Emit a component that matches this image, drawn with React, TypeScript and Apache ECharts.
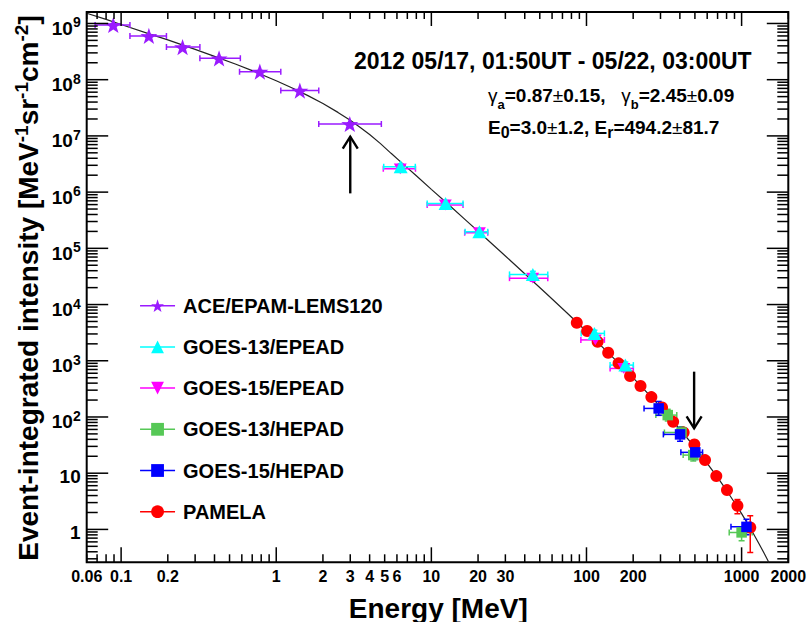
import React, { useEffect, useRef } from "react";
import * as echarts from "echarts";

const FONT = '"Liberation Sans", Arial, Helvetica, sans-serif';

const X_MIN = 0.06;
const X_MAX = 2000;
const Y_MIN = 0.26;
const Y_MAX = 1.6e9;

// rows: [E (MeV), intensity, E_lo, E_hi, I_lo, I_hi]
const aceRows = [
  [0.089, 9.4e8, 0.068, 0.114, 8.9e8, 9.9e8],
  [0.151, 6.0e8, 0.114, 0.196, 5.7e8, 6.3e8],
  [0.249, 3.8e8, 0.196, 0.322, 3.6e8, 4.0e8],
  [0.428, 2.4e8, 0.322, 0.587, 2.28e8, 2.52e8],
  [0.784, 1.39e8, 0.58, 1.07, 1.32e8, 1.46e8],
  [1.42, 6.4e7, 1.07, 1.88, 6.1e7, 6.7e7],
  [2.98, 1.63e7, 1.88, 4.76, 1.55e7, 1.71e7],
];

const goes13EpeadRows = [
  [6.34, 2.83e6, 4.93, 7.88, 2.5e6, 3.2e6],
  [12.35, 6.3e5, 9.4, 16.0, 5.6e5, 7.1e5],
  [20.4, 1.97e5, 16.5, 23.1, 1.75e5, 2.2e5],
  [45.1, 3.44e4, 31.9, 56.3, 3.05e4, 3.9e4],
  [112.5, 3.07e3, 92.4, 130.5, 2.7e3, 3.5e3],
  [178, 838, 142, 200.5, 740, 950],
];

const goes15EpeadRows = [
  [6.3, 2.6e6, 4.9, 7.9, 2.3e6, 2.95e6],
  [12.3, 5.9e5, 9.4, 16.0, 5.2e5, 6.7e5],
  [20.4, 1.9e5, 16.4, 23.1, 1.68e5, 2.15e5],
  [45, 2.95e4, 31.9, 56.3, 2.6e4, 3.35e4],
  [114, 2.35e3, 92, 130.5, 2.08e3, 2.65e3],
  [174, 730, 142, 200.5, 645, 825],
];

const goes13HepadRows = [
  [334, 108, 280, 382, 85, 137],
  [410, 53, 318, 423, 42, 67],
  [488, 21, 420, 560, 16.5, 26.5],
  [1000, 0.885, 832, 1170, 0.63, 1.09],
];

const goes15HepadRows = [
  [292, 142, 235, 314, 107, 189],
  [401, 49, 313, 421, 37, 65],
  [503, 23.5, 406, 560, 17.6, 31.3],
  [1075, 1.11, 854, 1176, 0.8, 1.52],
];

const pamelaRows = [
  [86.6, 4745, 86.6, 86.6, 4560, 4940],
  [101, 3376, 101, 101, 3240, 3510],
  [118, 2178, 118, 118, 2090, 2265],
  [138, 1387, 138, 138, 1330, 1445],
  [161, 899, 161, 161, 862, 935],
  [191, 535, 191, 191, 513, 557],
  [223, 355, 223, 223, 340, 370],
  [262, 226, 262, 262, 216, 236],
  [307, 148, 307, 307, 141, 155],
  [362, 82, 362, 362, 78, 86],
  [423, 53, 423, 423, 50.5, 55.5],
  [496, 32.5, 496, 496, 31, 34],
  [581, 17.1, 581, 581, 16.2, 18],
  [687, 8.88, 687, 687, 8.4, 9.4],
  [805, 5.0, 805, 805, 4.7, 5.3],
  [940, 2.63, 940, 940, 1.9, 3.4],
  [1137, 1.08, 1137, 1137, 0.39, 1.75],
];

// fitted curve
const fitEnergy = [
  0.06, 0.08, 0.1, 0.15, 0.2, 0.3, 0.4, 0.55, 0.7, 1, 1.3, 1.6, 2, 2.5, 3, 3.5, 4,
  4.7, 5.5, 6.5, 8, 10, 13, 17, 22, 30, 40, 55, 75, 100, 140, 200, 280, 400, 500,
  600, 700, 800, 900, 1000, 1100, 1200, 1300, 1400, 1500,
];
const fitIntensity = [
  1.52e9, 1.18e9, 9.6e8, 6.6e8, 5.1e8, 3.46e8, 2.6e8, 1.88e8, 1.45e8, 9.6e7, 6.9e7,
  5.2e7, 3.76e7, 2.62e7, 1.9e7, 1.4e7, 1.06e7, 7.3e6, 4.9e6, 3.25e6, 1.95e6, 1.12e6,
  5.9e5, 3.02e5, 1.59e5, 7.3e4, 3.54e4, 1.57e4, 7.06e3, 3.32e3, 1.34e3, 496, 185,
  60.5, 28.7, 15.0, 8.4, 4.93, 3.01, 1.91, 1.23, 0.81, 0.546, 0.372, 0.257,
];

const arrowEnergy = [3.0, 494.2];
const arrowFrom = [9.5e5, 640];
const arrowTo = [9.7e6, 63];

const xTickLabels = [0.06, 0.1, 0.2, 1, 2, 3, 4, 5, 6, 10, 20, 30, 100, 200, 1000, 2000];
const yTickExponents = [0, 1, 2, 3, 4, 5, 6, 7, 8, 9];

const seriesNames = [
  "ACE/EPAM-LEMS120",
  "GOES-13/EPEAD",
  "GOES-15/EPEAD",
  "GOES-13/HEPAD",
  "GOES-15/HEPAD",
  "PAMELA",
];

const STAR =
  "path://M50,0 L61.8,35.1 L97.6,34.5 L69,56.7 L79.4,90.5 L50,70 L20.6,90.5 L31,56.7 L2.4,34.5 L38.2,35.1 Z";
const DOWN_TRI = "path://M0,0 L10,0 L5,9 Z";

const COL_ACE = "#9a1aff";
const COL_G13E = "#00ffff";
const COL_G15E = "#ff00ff";
const COL_G13H = "#56c856";
const COL_G15H = "#0000ff";
const COL_PAM = "#ff0000";

function errRender(color: string) {
  return (params: any, api: any) => {
    const x = api.value(0);
    const y = api.value(1);
    const xl = api.value(2);
    const xh = api.value(3);
    const yl = api.value(4);
    const yh = api.value(5);
    const st = { stroke: color, lineWidth: 1.5 };
    const cap = 3;
    const ch: any[] = [];
    if (xh > xl) {
      const a = api.coord([xl, y]);
      const b = api.coord([xh, y]);
      ch.push({ type: "line", shape: { x1: a[0], y1: a[1], x2: b[0], y2: b[1] }, style: st });
      ch.push({ type: "line", shape: { x1: a[0], y1: a[1] - cap, x2: a[0], y2: a[1] + cap }, style: st });
      ch.push({ type: "line", shape: { x1: b[0], y1: b[1] - cap, x2: b[0], y2: b[1] + cap }, style: st });
    }
    if (yh > yl) {
      const a = api.coord([x, yl]);
      const b = api.coord([x, yh]);
      ch.push({ type: "line", shape: { x1: a[0], y1: a[1], x2: b[0], y2: b[1] }, style: st });
      ch.push({ type: "line", shape: { x1: a[0] - cap, y1: a[1], x2: a[0] + cap, y2: a[1] }, style: st });
      ch.push({ type: "line", shape: { x1: b[0] - cap, y1: b[1], x2: b[0] + cap, y2: b[1] }, style: st });
    }
    return { type: "group", children: ch };
  };
}

function logTicks(lo: number, hi: number) {
  const major: number[] = [];
  const minor: number[] = [];
  for (let e = -3; e <= 10; e++) {
    const d = Math.pow(10, e);
    for (let k = 1; k <= 9; k++) {
      const v = d * k;
      if (v >= lo * 0.999 && v <= hi * 1.001) {
        if (k === 1) major.push(v);
        else minor.push(v);
      }
    }
  }
  return { major, minor };
}

const xT = logTicks(X_MIN, X_MAX);
const yT = logTicks(Y_MIN, Y_MAX);

function tickRender(params: any, api: any) {
  const cs = params.coordSys;
  const left = cs.x;
  const right = cs.x + cs.width;
  const top = cs.y;
  const bottom = cs.y + cs.height;
  const st = { stroke: "#000", lineWidth: 1.5 };
  const ch: any[] = [];
  const L = (x1: number, y1: number, x2: number, y2: number) => ({
    type: "line",
    shape: { x1, y1, x2, y2 },
    style: st,
  });
  xT.major.forEach((v) => {
    const x = api.coord([v, Y_MIN])[0];
    ch.push(L(x, bottom, x, bottom - 15), L(x, top, x, top + 14));
  });
  xT.minor.forEach((v) => {
    const x = api.coord([v, Y_MIN])[0];
    ch.push(L(x, bottom, x, bottom - 8), L(x, top, x, top + 7));
  });
  yT.major.forEach((v) => {
    const y = api.coord([X_MIN, v])[1];
    ch.push(L(left, y, left + 21.5, y), L(right, y, right - 21.5, y));
  });
  yT.minor.forEach((v) => {
    const y = api.coord([X_MIN, v])[1];
    ch.push(L(left, y, left + 11, y), L(right, y, right - 11, y));
  });
  xTickLabels.forEach((v) => {
    const x = api.coord([v, Y_MIN])[0];
    ch.push({
      type: "text",
      x,
      y: bottom + 14,
      style: {
        text: String(v),
        fontSize: 16,
        fontWeight: "bold",
        fontFamily: FONT,
        fill: "#000",
        align: "center",
        verticalAlign: "middle",
      },
    });
  });
  yTickExponents.forEach((e) => {
    const y = api.coord([X_MIN, Math.pow(10, e)])[1];
    const txt = e === 0 ? "1" : e === 1 ? "10" : `{b|10}{s|${e}}`;
    ch.push({
      type: "text",
      x: left - 6,
      y: e >= 2 ? y + 5 : y + 3,
      style: {
        text: txt,
        fontSize: 19,
        fontWeight: "bold",
        fontFamily: FONT,
        fill: "#000",
        align: "right",
        verticalAlign: "middle",
        rich: {
          b: { fontSize: 19, fontWeight: "bold", fontFamily: FONT, fill: "#000" },
          s: { fontSize: 14, fontWeight: "bold", fontFamily: FONT, fill: "#000", padding: [0, 0, 12, 0] },
        },
      },
    });
  });
  return { type: "group", children: ch };
}

function arrowRender(params: any, api: any) {
  const e = api.value(0);
  const from = api.coord([e, api.value(1)]);
  const to = api.coord([e, api.value(2)]);
  const dir = to[1] < from[1] ? 1 : -1; // up arrow -> arms below tip
  const st = { stroke: "#000", lineWidth: 2.4, fill: "none" };
  return {
    type: "group",
    children: [
      { type: "line", shape: { x1: from[0], y1: from[1], x2: to[0], y2: to[1] }, style: st },
      {
        type: "polyline",
        shape: {
          points: [
            [to[0] - 7.5, to[1] + dir * 12],
            [to[0], to[1]],
            [to[0] + 7.5, to[1] + dir * 12],
          ],
        },
        style: st,
      },
    ],
  };
}

function markerSeries(name: string, rows: number[][], color: string, symbol: string, size: any) {
  return {
    name,
    type: "line",
    data: rows.map((r) => [r[0], r[1]]),
    symbol,
    symbolSize: size,
    symbolKeepAspect: true,
    showSymbol: true,
    showAllSymbol: true,
    color,
    itemStyle: { color, borderWidth: 0 },
    lineStyle: { width: 0, opacity: 0, color },
    silent: true,
    z: 3,
    emphasis: { disabled: true },
  };
}

function errSeries(rows: number[][], color: string) {
  return {
    type: "custom",
    data: rows,
    encode: { x: 0, y: 1 },
    renderItem: errRender(color),
    clip: true,
    silent: true,
    z: 3,
  };
}

export default function App() {
  const ref = useRef<HTMLDivElement>(null);
  useEffect(() => {
    if (!ref.current) return;
    const chart = echarts.init(ref.current, undefined, { renderer: "svg" });
    const option: any = {
      animation: false,
      backgroundColor: "#ffffff",
      grid: {
        left: 86.7,
        right: 20.7,
        top: 12,
        bottom: 59.7,
        show: true,
        borderColor: "#000",
        borderWidth: 2,
        backgroundColor: "transparent",
        outerBoundsMode: "none",
      },
      xAxis: {
        type: "log",
        logBase: 10,
        min: X_MIN,
        max: X_MAX,
        axisLine: { show: false },
        axisTick: { show: false },
        axisLabel: { show: false },
        splitLine: { show: false },
      },
      yAxis: {
        type: "log",
        logBase: 10,
        min: Y_MIN,
        max: Y_MAX,
        axisLine: { show: false },
        axisTick: { show: false },
        axisLabel: { show: false },
        splitLine: { show: false },
      },
      legend: {
        show: true,
        data: seriesNames,
        orient: "vertical",
        left: 139.3,
        top: 295.7,
        padding: 0,
        itemWidth: 35,
        itemHeight: 16,
        itemGap: 21.2,
        selectedMode: false,
        lineStyle: { width: 1.5, opacity: 1 },
        textStyle: {
          fontSize: 20,
          fontWeight: "bold",
          fontFamily: FONT,
          color: "#000",
          lineHeight: 20,
          padding: [0, 0, 0, 3],
        },
      },
      graphic: [
        {
          type: "text",
          x: 354,
          y: 61,
          style: {
            text: "2012 05/17, 01:50UT - 05/22, 03:00UT",
            fontSize: 23,
            fontWeight: "bold",
            fontFamily: FONT,
            fill: "#000",
            align: "left",
            verticalAlign: "middle",
            textAlign: "left",
            textVerticalAlign: "middle",
          },
        },
        {
          type: "text",
          x: 488,
          y: 95,
          style: {
            text: "{g|γ}{sa|a}{b|=0.87}{pm|±}{b|0.15,   }{g|γ}{sa|b}{b|=2.45}{pm|±}{b|0.09}",
            fill: "#000",
            fontSize: 19,
            fontFamily: FONT,
            align: "left",
            verticalAlign: "middle",
            textAlign: "left",
            textVerticalAlign: "middle",
            rich: {
              g: { fontSize: 19, fontWeight: "normal", fontFamily: FONT, fill: "#000" },
              sa: { fontSize: 13, fontWeight: "bold", fontFamily: FONT, fill: "#000", padding: [19, 0, 0, 0] },
              b: { fontSize: 19, fontWeight: "bold", fontFamily: FONT, fill: "#000" },
              pm: { fontSize: 19, fontWeight: "normal", fontFamily: FONT, fill: "#000" },
            },
          },
        },
        {
          type: "text",
          x: 488,
          y: 127,
          style: {
            text: "{b|E}{se|0}{b|=3.0}{pm|±}{b|1.2, E}{se|r}{b|=494.2}{pm|±}{b|81.7}",
            fill: "#000",
            fontSize: 19,
            fontFamily: FONT,
            align: "left",
            verticalAlign: "middle",
            textAlign: "left",
            textVerticalAlign: "middle",
            rich: {
              se: { fontSize: 16, fontWeight: "bold", fontFamily: FONT, fill: "#000", padding: [10, 0, 0, 0] },
              b: { fontSize: 19, fontWeight: "bold", fontFamily: FONT, fill: "#000" },
              pm: { fontSize: 19, fontWeight: "normal", fontFamily: FONT, fill: "#000" },
            },
          },
        },
        {
          type: "text",
          x: 438.3,
          y: 608,
          style: {
            text: "Energy [MeV]",
            fontSize: 28,
            fontWeight: "bold",
            fontFamily: FONT,
            fill: "#000",
            align: "center",
            verticalAlign: "middle",
            textAlign: "center",
            textVerticalAlign: "middle",
          },
        },
        {
          type: "text",
          x: 28,
          y: 288,
          rotation: Math.PI / 2,
          style: {
            text: "{m|Event-integrated intensity [MeV}{s|-1}{m|sr}{s|-1}{m|cm}{s|-2}{m|]}",
            fill: "#000",
            fontSize: 28,
            fontFamily: FONT,
            align: "center",
            verticalAlign: "middle",
            textAlign: "center",
            textVerticalAlign: "middle",
            rich: {
              m: { fontSize: 28, fontWeight: "bold", fontFamily: FONT, fill: "#000" },
              s: { fontSize: 19, fontWeight: "bold", fontFamily: FONT, fill: "#000", padding: [0, 0, 14, 0] },
            },
          },
        },
      ],
      series: [
        {
          type: "line",
          name: "fit",
          data: fitEnergy.map((e, i) => [e, fitIntensity[i]]),
          showSymbol: false,
          symbol: "none",
          lineStyle: { color: "#222", width: 1.2 },
          clip: true,
          silent: true,
          z: 2,
        },
        errSeries(aceRows, COL_ACE),
        markerSeries(seriesNames[0], aceRows, COL_ACE, STAR, 17),
        errSeries(pamelaRows, COL_PAM),
        markerSeries(seriesNames[5], pamelaRows, COL_PAM, "circle", 12),
        errSeries(goes15EpeadRows, COL_G15E),
        markerSeries(seriesNames[2], goes15EpeadRows, COL_G15E, DOWN_TRI, [13, 12]),
        errSeries(goes13EpeadRows, COL_G13E),
        markerSeries(seriesNames[1], goes13EpeadRows, COL_G13E, "triangle", [14, 13]),
        errSeries(goes13HepadRows, COL_G13H),
        markerSeries(seriesNames[3], goes13HepadRows, COL_G13H, "rect", 10.5),
        errSeries(goes15HepadRows, COL_G15H),
        markerSeries(seriesNames[4], goes15HepadRows, COL_G15H, "rect", 10.5),
        {
          type: "custom",
          data: arrowEnergy.map((e, i) => [e, arrowFrom[i], arrowTo[i]]),
          encode: { x: 0, y: 1 },
          renderItem: arrowRender,
          clip: false,
          silent: true,
          z: 6,
        },
        {
          type: "custom",
          data: [[1, 1]],
          encode: { x: 0, y: 1 },
          renderItem: tickRender,
          clip: false,
          silent: true,
          z: 10,
        },
      ],
    };
    chart.setOption(option);
    return () => chart.dispose();
  }, []);
  return (
    <div
      ref={ref}
      style={{ position: "fixed", left: 0, top: 0, width: 809, height: 622, background: "#fff" }}
    />
  );
}
